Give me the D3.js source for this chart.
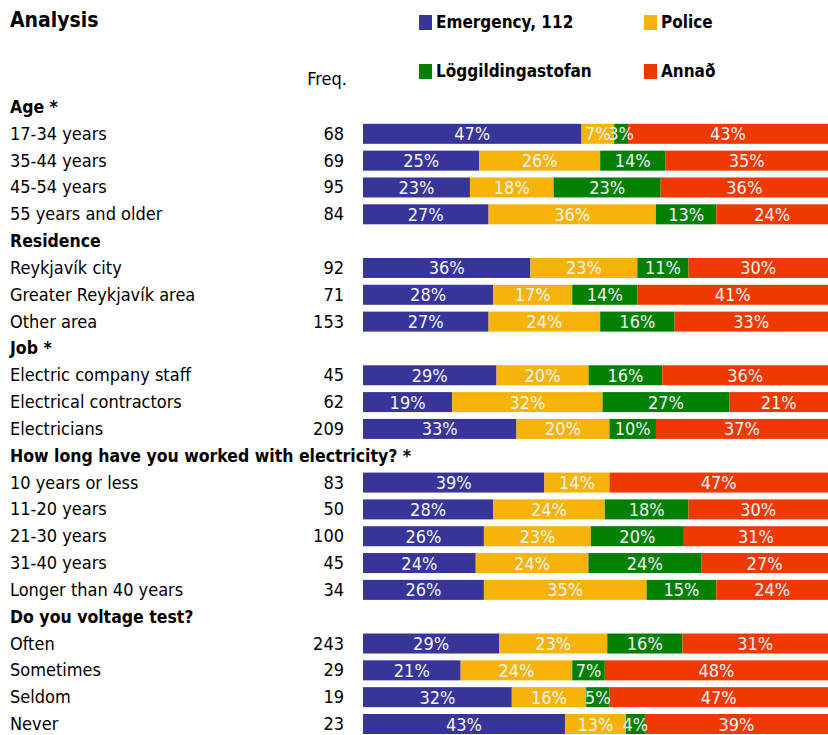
<!DOCTYPE html>
<html><head><meta charset="utf-8">
<script src="https://cdn.jsdelivr.net/npm/d3@7"></script>
<style>
body{margin:0;background:#fff;}
text{font-family:"Liberation Sans Narrow","Arial Narrow","DejaVu Sans Condensed",sans-serif;}
</style></head>
<body><svg id="c" width="828" height="735"></svg>
<script>
const seriesNames = ["Emergency, 112","Police","Löggildingastofan","Annað"];
const colors = ["#37359a","#f7b309","#008000","#ef3900"];
const groups = ["Age *","Residence","Job *","How long have you worked with electricity? *","Do you voltage test?"];
const rowGroup = [0,0,0,0,1,1,1,2,2,2,3,3,3,3,3,4,4,4,4];
const rowLabels = ["17-34 years","35-44 years","45-54 years","55 years and older",
 "Reykjavík city","Greater Reykjavík area","Other area",
 "Electric company staff","Electrical contractors","Electricians",
 "10 years or less","11-20 years","21-30 years","31-40 years","Longer than 40 years",
 "Often","Sometimes","Seldom","Never"];
const freq = [68,69,95,84,92,71,153,45,62,209,83,50,100,45,34,243,29,19,23];
const emergency = [47,25,23,27,36,28,27,29,19,33,39,28,26,24,26,29,21,32,43];
const police    = [7,26,18,36,23,17,24,20,32,20,14,24,23,24,35,23,24,16,13];
const logg      = [3,14,23,13,11,14,16,16,27,10,0,18,20,24,15,16,7,5,4];
const annad     = [43,35,36,24,30,41,33,36,21,37,47,30,31,27,24,31,48,47,39];

const svg = d3.select("#c");
const lines = [];
let gPrev = -1;
rowLabels.forEach((lab,i)=>{
  if(rowGroup[i]!==gPrev){ lines.push({type:"h",label:groups[rowGroup[i]]}); gPrev=rowGroup[i]; }
  lines.push({type:"r",idx:i,label:lab});
});
const y = d3.scaleLinear().domain([0, lines.length-1]).range([107, 724]);
const x = d3.scaleLinear().domain([0,1]).range([363, 828]);
const barH = 20;

const keys = ["e","p","l","a"];
const tableData = rowLabels.map((l,i)=>({e:emergency[i],p:police[i],l:logg[i],a:annad[i]}));
const stacked = d3.stack().keys(keys).offset(d3.stackOffsetExpand)(tableData);

svg.append("text").attr("x",10).attr("y",27).attr("font-size",21).attr("font-weight","bold").text("Analysis");
svg.append("text").attr("x",347).attr("y",85).attr("text-anchor","end").attr("font-size",18).text("Freq.");

const legPos = [[419,15],[644,15],[419,64],[644,64]];
seriesNames.forEach((n,k)=>{
  svg.append("rect").attr("x",legPos[k][0]).attr("y",legPos[k][1]).attr("width",13).attr("height",15).attr("fill",colors[k]);
  svg.append("text").attr("x",legPos[k][0]+17).attr("y",legPos[k][1]+13).attr("font-size",17).attr("font-weight","bold").text(n);
});

lines.forEach((ln,j)=>{
  const cy = y(j);
  if(ln.type==="h"){
    svg.append("text").attr("x",10).attr("y",cy+6).attr("font-size",17.5).attr("font-weight","bold").text(ln.label);
  } else {
    const i = ln.idx;
    svg.append("text").attr("x",10).attr("y",cy+6).attr("font-size",18).text(ln.label);
    svg.append("text").attr("x",344).attr("y",cy+6).attr("text-anchor","end").attr("font-size",18).text(freq[i]);
    stacked.forEach((s,k)=>{
      const d = s[i];
      svg.append("rect").attr("x",x(d[0])).attr("y",cy-barH/2).attr("width",x(d[1])-x(d[0])).attr("height",barH).attr("fill",colors[k]);
    });
    stacked.forEach((s,k)=>{
      const d = s[i];
      const v = tableData[i][keys[k]];
      if(v>0){
        svg.append("text").attr("x",(x(d[0])+x(d[1]))/2).attr("y",cy+6.5).attr("text-anchor","middle")
          .attr("font-size",18).attr("fill","#f4f4f4").text(v+"%");
      }
    });
  }
});
</script></body></html>
